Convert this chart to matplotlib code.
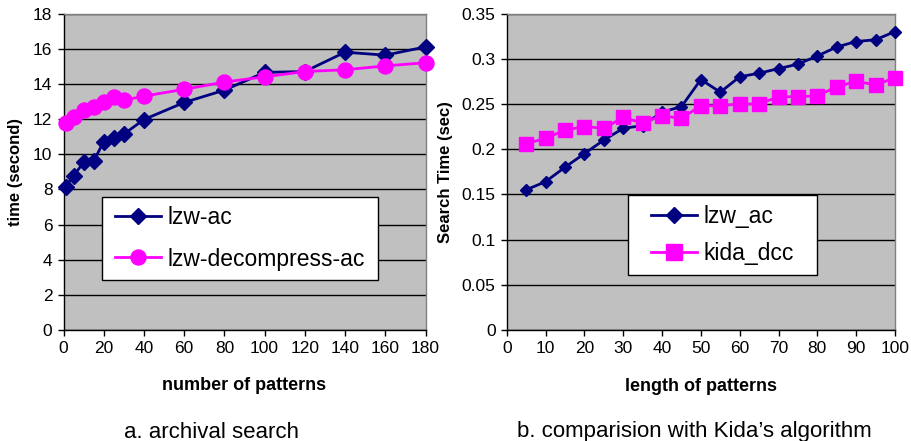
import matplotlib
matplotlib.use("Agg")
import matplotlib.pyplot as plt
from matplotlib.patches import Rectangle

plt.rcParams['font.family'] = ['Liberation Sans', 'DejaVu Sans']

# Chart a: archival search
num_patterns = [1, 5, 10, 15, 20, 25, 30, 40, 60, 80, 100, 120, 140, 160, 180]
lzw_ac_a = [8.15, 8.77, 9.53, 9.6, 10.72, 10.9, 11.14, 11.97, 12.94, 13.64, 14.65, 14.7, 15.8, 15.63, 16.1]
lzw_decomp_ac = [11.8, 12.12, 12.5, 12.69, 12.94, 13.26, 13.07, 13.3, 13.69, 14.1, 14.4, 14.7, 14.8, 15.02, 15.2]

# Chart b: comparison with Kida's algorithm
pat_len = [5, 10, 15, 20, 25, 30, 35, 40, 45, 50, 55, 60, 65, 70, 75, 80, 85, 90, 95, 100]
lzw_ac_b = [0.155, 0.164, 0.18, 0.195, 0.21, 0.223, 0.226, 0.241, 0.247, 0.277, 0.263, 0.28, 0.284, 0.289, 0.294, 0.303, 0.313, 0.319, 0.321, 0.33]
kida_dcc = [0.206, 0.212, 0.221, 0.225, 0.223, 0.235, 0.229, 0.237, 0.234, 0.248, 0.248, 0.25, 0.25, 0.258, 0.258, 0.259, 0.269, 0.275, 0.271, 0.279]

W, H = 911, 441
fig = plt.figure(figsize=(W / 100, H / 100), dpi=100)

def ax_rect(x0, y0, x1, y1):
    return [x0 / W, 1 - y1 / H, (x1 - x0) / W, (y1 - y0) / H]

NAVY = '#000080'
MAG = '#FF00FF'
BG = '#C0C0C0'

def style(ax):
    ax.set_facecolor(BG)
    ax.grid(axis='y', color='black', linewidth=1)
    ax.set_axisbelow(True)
    for s in ['top', 'right']:
        ax.spines[s].set_color('#808080')
        ax.spines[s].set_linewidth(1)
    for s in ['left', 'bottom']:
        ax.spines[s].set_color('black')
        ax.spines[s].set_linewidth(1)
    ax.tick_params(direction='out', length=4, width=1, labelsize=12.5, color='black', pad=4)

def legend_box(ax, x0, y0, x1, y1, spacing, marker_scale=1.0):
    # frame in figure pixel coordinates
    rect = Rectangle((x0 / W, 1 - y1 / H), (x1 - x0) / W, (y1 - y0) / H,
                     transform=fig.transFigure, facecolor='white', edgecolor='black',
                     linewidth=1, zorder=5)
    fig.patches.append(rect)
    cx = ((x0 + x1) / 2) / W
    cy = 1 - ((y0 + y1) / 2) / H
    handles, labels = ax.get_legend_handles_labels()
    leg = fig.legend(handles, labels, loc='center', bbox_to_anchor=(cx, cy),
                     bbox_transform=fig.transFigure, markerscale=marker_scale,
                     fontsize=16.5, frameon=False, borderpad=0, labelspacing=spacing,
                     handlelength=2.0, handletextpad=0.3, borderaxespad=0)
    leg.set_zorder(6)
    return leg

ax1 = fig.add_axes(ax_rect(63.5, 13.5, 425.5, 330))
style(ax1)
ax1.plot(num_patterns, lzw_ac_a, color=NAVY, lw=2, marker='D', ms=7.8, mfc=NAVY, mec=NAVY, label='lzw-ac', clip_on=False, zorder=3)
ax1.plot(num_patterns, lzw_decomp_ac, color=MAG, lw=2, marker='o', ms=10.8, mfc=MAG, mec=MAG, label='lzw-decompress-ac', clip_on=False, zorder=4)
ax1.set_xlim(0, 180)
ax1.set_ylim(0, 18)
ax1.set_xticks(range(0, 181, 20))
ax1.set_yticks(range(0, 19, 2))
ax1.set_xlabel('number of patterns', fontsize=13, fontweight='bold', labelpad=15)
ax1.set_ylabel('time (second)', fontsize=12, fontweight='bold', labelpad=7)

ax2 = fig.add_axes(ax_rect(506.7, 13.5, 895, 330))
style(ax2)
ax2.plot(pat_len, lzw_ac_b, color=NAVY, lw=2, marker='D', ms=6.5, mfc=NAVY, mec=NAVY, label='lzw_ac', clip_on=False, zorder=3)
ax2.plot(pat_len, kida_dcc, color=MAG, lw=2, marker='s', ms=9.5, mfc=MAG, mec=MAG, label='kida_dcc', clip_on=False, zorder=4)
ax2.set_xlim(0, 100)
ax2.set_ylim(0, 0.35)
ax2.set_xticks(range(0, 101, 10))
ax2.set_yticks([0, 0.05, 0.1, 0.15, 0.2, 0.25, 0.3, 0.35])
ax2.set_yticklabels(['0', '0.05', '0.1', '0.15', '0.2', '0.25', '0.3', '0.35'])
ax2.set_xlabel('length of patterns', fontsize=13, fontweight='bold', labelpad=16)
ax2.set_ylabel('Search Time (sec)', fontsize=12, fontweight='bold', labelpad=6)

legend_box(ax1, 101.7, 196.7, 378, 280, 0.8)
legend_box(ax2, 628, 195, 817, 275, 0.65, marker_scale=1.2)

fig.text(212 / W, 1 - 432 / H, 'a. archival search', ha='center', va='center', fontsize=16)
fig.text(694 / W, 1 - 432 / H, 'b. comparision with Kida\u2019s algorithm', ha='center', va='center', fontsize=16)

fig.savefig('out.png', dpi=100)
